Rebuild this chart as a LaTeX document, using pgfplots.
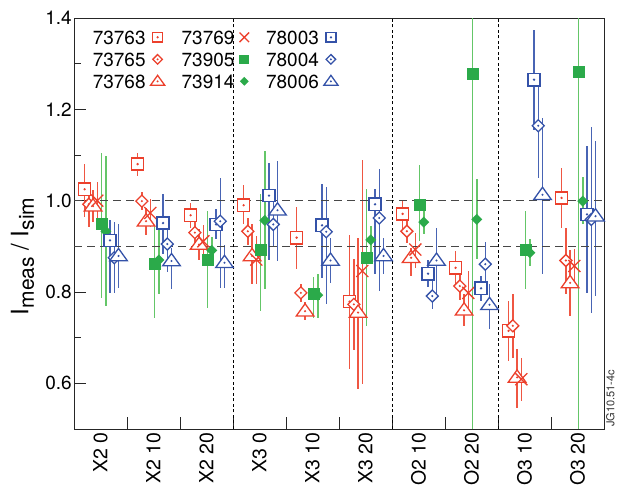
\documentclass[border=0pt]{standalone}
\usepackage{fontspec}
\setmainfont{TeX Gyre Heros}
\setsansfont{TeX Gyre Heros}
\usepackage{pgfplots}
\usepackage{pgfplotstable}
\pgfplotsset{compat=1.18}

\definecolor{cred}{RGB}{236,64,44}
\definecolor{credbar}{RGB}{239,86,66}
\definecolor{cgreen}{RGB}{43,170,74}
\definecolor{cgreenbar}{RGB}{100,198,104}
\definecolor{cblue}{RGB}{52,82,168}
\definecolor{cbluebar}{RGB}{72,100,180}

\newcommand{\fs}{\fontsize{19bp}{22bp}\selectfont}
\newcommand{\fsx}{\fontsize{19.5bp}{22bp}\selectfont}

\pgfdeclareplotmark{osq}{%
  \pgfpathmoveto{\pgfpoint{-6.1bp}{-6.1bp}}\pgfpathlineto{\pgfpoint{6.1bp}{-6.1bp}}%
  \pgfpathlineto{\pgfpoint{6.1bp}{6.1bp}}\pgfpathlineto{\pgfpoint{-6.1bp}{6.1bp}}\pgfpathclose
  \pgfusepathqfillstroke
  \pgfpathcircle{\pgfpointorigin}{0.25bp}\pgfusepathqstroke}
\pgfdeclareplotmark{odi}{%
  \pgfpathmoveto{\pgfpoint{0bp}{6bp}}\pgfpathlineto{\pgfpoint{6bp}{0bp}}%
  \pgfpathlineto{\pgfpoint{0bp}{-6bp}}\pgfpathlineto{\pgfpoint{-6bp}{0bp}}\pgfpathclose
  \pgfusepathqfillstroke
  \pgfpathcircle{\pgfpointorigin}{0.25bp}\pgfusepathqstroke}
\pgfdeclareplotmark{otri}{%
  \pgfpathmoveto{\pgfpoint{0bp}{7.5bp}}\pgfpathlineto{\pgfpoint{8.8bp}{-4.8bp}}%
  \pgfpathlineto{\pgfpoint{-8.8bp}{-4.8bp}}\pgfpathclose
  \pgfusepathqfillstroke
  \pgfpathcircle{\pgfpointorigin}{0.25bp}\pgfusepathqstroke}
\pgfdeclareplotmark{oxx}{%
  \pgfpathmoveto{\pgfpoint{-6bp}{-6bp}}\pgfpathlineto{\pgfpoint{6bp}{6bp}}%
  \pgfpathmoveto{\pgfpoint{-6bp}{6bp}}\pgfpathlineto{\pgfpoint{6bp}{-6bp}}%
  \pgfusepathqstroke}
\pgfdeclareplotmark{fsq}{%
  \pgfpathrectangle{\pgfpoint{-6bp}{-6bp}}{\pgfpoint{12bp}{12bp}}\pgfusepathqfill}
\pgfdeclareplotmark{fdi}{%
  \pgfpathmoveto{\pgfpoint{0bp}{5.5bp}}\pgfpathlineto{\pgfpoint{5.5bp}{0bp}}%
  \pgfpathlineto{\pgfpoint{0bp}{-5.5bp}}\pgfpathlineto{\pgfpoint{-5.5bp}{0bp}}\pgfpathclose
  \pgfusepathqfill}

% 73763
\pgfplotstableread{
c y ep em
0 1.025 0.055 0.060
1 1.080 0.025 0.025
2 0.968 0.027 0.027
3 0.990 0.045 0.042
4 0.919 0.068 0.068
5 0.779 0.146 0.147
6 0.971 0.028 0.044
7 0.853 0.037 0.044
8 0.715 0.065 0.066
9 1.006 0.066 0.066
}\tA
% 73765
\pgfplotstableread{
c y ep em
0 0.992 0.045 0.050
1 0.999 0.020 0.020
2 0.930 0.030 0.030
3 0.933 0.030 0.030
4 0.798 0.020 0.020
5 0.773 0.100 0.100
6 0.933 0.025 0.025
7 0.813 0.030 0.030
8 0.726 0.069 0.070
9 0.869 0.071 0.073
}\tB
% 73768
\pgfplotstableread{
c y ep em
0 0.988 0.035 0.035
1 0.955 0.030 0.030
2 0.904 0.035 0.035
3 0.879 0.069 0.062
4 0.758 0.020 0.020
5 0.755 0.164 0.167
6 0.875 0.022 0.040
7 0.760 0.035 0.034
8 0.613 0.062 0.066
9 0.820 0.073 0.072
}\tC
% 73769
\pgfplotstableread{
c y ep em
0 1.000 0.040 0.040
1 0.973 0.030 0.030
2 0.911 0.035 0.035
3 0.871 0.051 0.054
5 0.846 0.244 0.247
6 0.893 0.037 0.040
7 0.798 0.048 0.047
8 0.609 0.047 0.047
9 0.857 0.037 0.047
}\tD
% 73905
\pgfplotstableread{
c y ep em
0 0.948 0.156 0.161
1 0.862 0.082 0.118
2 0.871 0.106 0.105
3 0.893 0.121 0.135
4 0.795 0.038 0.051
5 0.875 0.150 0.149
6 0.990 0.089 0.079
7 1.277 1.000 1.000
8 0.891 0.086 0.085
9 1.281 1.000 1.000
}\tE
% 73914
\pgfplotstableread{
c y ep em
0 0.933 0.164 0.164
1 0.870 0.065 0.075
2 0.891 0.030 0.030
3 0.957 0.151 0.150
4 0.793 0.047 0.049
5 0.914 0.030 0.030
6 0.953 0.025 0.025
7 0.959 0.088 0.087
8 0.886 0.030 0.030
9 0.999 0.052 0.051
}\tF
% 78003
\pgfplotstableread{
c y ep em
0 0.913 0.044 0.115
1 0.951 0.064 0.068
2 0.948 0.033 0.033
3 1.011 0.072 0.140
4 0.946 0.091 0.115
5 0.992 0.033 0.153
6 0.840 0.030 0.030
7 0.808 0.027 0.028
8 1.265 0.108 0.110
9 0.970 0.149 0.172
}\tG
% 78004
\pgfplotstableread{
c y ep em
0 0.875 0.078 0.078
1 0.905 0.062 0.062
2 0.955 0.095 0.146
3 0.948 0.050 0.050
4 0.932 0.098 0.158
5 0.962 0.107 0.160
6 0.791 0.033 0.028
7 0.861 0.049 0.044
8 1.164 0.100 0.114
9 0.959 0.202 0.204
}\tH
% 78006
\pgfplotstableread{
c y ep em
0 0.879 0.070 0.070
1 0.868 0.029 0.062
2 0.864 0.040 0.055
3 0.979 0.107 0.111
4 0.869 0.050 0.050
5 0.879 0.040 0.040
6 0.869 0.071 0.082
7 0.772 0.045 0.054
8 1.013 0.168 0.174
9 0.966 0.164 0.175
}\tI

\pgfplotsset{
  ebar/.style={error bars/.cd, y dir=both, y explicit, error mark=none,
    error bar style={#1, line width=1.4bp}},
  omark/.style={only marks, mark=#1, mark options={fill=white, line width=1.3bp}},
  sqmark/.style={only marks, mark=osq, mark options={fill=white, line width=1.5bp}},
}

\begin{document}
\begin{tikzpicture}
\useasboundingbox (0,0) rectangle (617bp,490bp);
\begin{axis}[
  at={(74bp,61bp)}, anchor=south west, scale only axis,
  width=530bp, height=411bp,
  xmin=0, xmax=10, ymin=0.5, ymax=1.4,
  axis line style={line width=0.9bp, black!85},
  xtick={1,...,9}, xticklabels={},
  extra x ticks={0.5,1.5,2.5,3.5,4.5,5.5,6.5,7.5,8.5,9.5},
  extra x tick labels={X2 0,X2 10,X2 20,X3 0,X3 10,X3 20,O2 10,O2 20,O3 10,O3 20},
  extra x tick style={major tick length=0pt,
    tick label style={rotate=90, anchor=east, font=\fsx}},
  ytick={0.6,0.8,1.0,1.2,1.4}, minor ytick={0.7,0.9,1.1,1.3},
  /pgf/number format/assume math mode=true,
  yticklabel style={/pgf/number format/.cd, fixed, fixed zerofill, precision=1,
    /tikz/.cd, font=\fs, inner xsep=2bp},
  major tick length=12bp, minor tick length=7bp,
  tick style={line width=0.8bp, black!85},
  xtick pos=lower, ytick pos=left, tick align=inside,
  every axis y label/.style={at={(axis description cs:-0.097,0.42)}, rotate=90, anchor=center},
  ylabel={{\fontsize{24bp}{26bp}\selectfont I}\raisebox{-5.5bp}{\fontsize{21bp}{22bp}\selectfont meas}{\fontsize{24bp}{26bp}\selectfont\ /\ I}\raisebox{-5.5bp}{\fontsize{21bp}{22bp}\selectfont sim}},
  legend columns=3, transpose legend, legend plot pos=right,
  legend image code/.code={\draw[#1, /tikz/every mark/.append style={scale=0.8}] plot coordinates {(0bp,0bp)};},
  legend style={draw=none, fill=none, at={(axis description cs:0.035,0.97)}, anchor=north west,
    inner xsep=0pt, inner ysep=0pt, row sep=8.4bp, font=\fs,
    nodes={inner sep=0pt, text height=13.6bp, text depth=0bp},
    /tikz/every odd column/.append style={column sep=5bp},
    /tikz/every even column/.append style={column sep=17bp}},
]
% red series
\addplot[color=cred, sqmark, ebar=credbar]
  table[x expr=\thisrow{c}+0.20, y=y, y error plus=ep, y error minus=em]{\tA};
\addlegendentry{73763}
\addplot[color=cred, omark=odi, ebar=credbar]
  table[x expr=\thisrow{c}+0.28, y=y, y error plus=ep, y error minus=em]{\tB};
\addlegendentry{73765}
\addplot[color=cred, omark=otri, ebar=credbar]
  table[x expr=\thisrow{c}+0.36, y=y, y error plus=ep, y error minus=em]{\tC};
\addlegendentry{73768}
\addplot[color=cred, only marks, mark=oxx, mark options={line width=1.3bp}, ebar=credbar]
  table[x expr=\thisrow{c}+0.44, y=y, y error plus=ep, y error minus=em]{\tD};
\addlegendentry{73769}
% green series
\addplot[color=cgreen, only marks, mark=fsq, ebar=cgreenbar]
  table[x expr=\thisrow{c}+0.52, y=y, y error plus=ep, y error minus=em]{\tE};
\addlegendentry{73905}
\addplot[color=cgreen, only marks, mark=fdi, ebar=cgreenbar]
  table[x expr=\thisrow{c}+0.60, y=y, y error plus=ep, y error minus=em]{\tF};
\addlegendentry{73914}
% blue series
\addplot[color=cblue, sqmark, ebar=cbluebar]
  table[x expr=\thisrow{c}+0.68, y=y, y error plus=ep, y error minus=em]{\tG};
\addlegendentry{78003}
\addplot[color=cblue, omark=odi, ebar=cbluebar]
  table[x expr=\thisrow{c}+0.76, y=y, y error plus=ep, y error minus=em]{\tH};
\addlegendentry{78004}
\addplot[color=cblue, omark=otri, ebar=cbluebar]
  table[x expr=\thisrow{c}+0.84, y=y, y error plus=ep, y error minus=em]{\tI};
\addlegendentry{78006}
% reference lines
\addplot[forget plot, black!72, line width=1.2bp, dash pattern=on 8bp off 5bp] coordinates {(0,1.0) (10,1.0)};
\addplot[forget plot, black!72, line width=1.2bp, dash pattern=on 8bp off 5bp] coordinates {(0,0.9) (10,0.9)};
\addplot[forget plot, black, line width=0.7bp, dash pattern=on 3bp off 2.5bp] coordinates {(3,0.5) (3,1.4)};
\addplot[forget plot, black, line width=0.7bp, dash pattern=on 3bp off 2.5bp] coordinates {(6,0.5) (6,1.4)};
\addplot[forget plot, black, line width=0.7bp, dash pattern=on 3bp off 2.5bp] coordinates {(8,0.5) (8,1.4)};
\end{axis}
\node[rotate=90, anchor=north west, inner sep=0pt,
  font=\fontsize{11bp}{12bp}\selectfont, black!80] at (606bp,63bp) {JG10.51-4c};
\end{tikzpicture}
\end{document}
